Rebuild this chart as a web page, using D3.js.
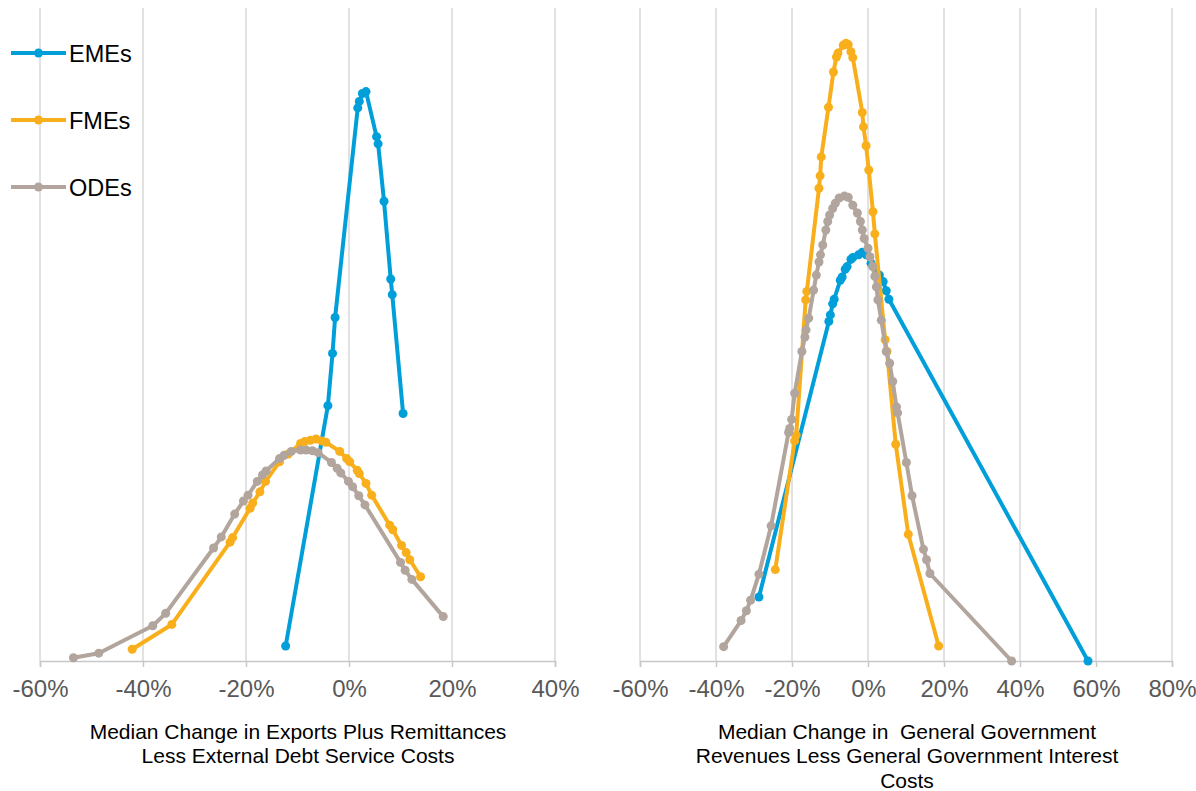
<!DOCTYPE html>
<html>
<head>
<meta charset="utf-8">
<script src="https://cdn.jsdelivr.net/npm/d3@7"></script>
<style>
	body { margin: 0; background: #ffffff; }
	svg { display: block; font-family: Arial, "Liberation Sans", sans-serif; }
</style>
</head>
<body>
<script>
// Series names and colours (legend order)
var seriesNames = ["EMEs", "FMEs", "ODEs"];
var seriesColors = ["#009fda", "#f9af1b", "#b1a59d"];

// Left panel: median change in exports plus remittances less external debt service costs (%), density
var exportsEMEs = [[-12.3, 2.3], [-4.1, 39.1], [-3.2, 47.1], [-2.7, 52.6], [1.7, 84.7], [2.0, 85.7],
	[2.6, 86.9], [3.3, 87.2], [5.35, 80.3], [5.65, 79.2], [6.8, 70.4], [8.1, 58.5], [8.4, 56.1], [10.5, 37.9]];
var exportsFMEs = [[-42.1, 1.8], [-34.4, 5.6], [-23.1, 18.2], [-22.6, 18.9], [-19.2, 23.4], [-18.7, 24.2],
	[-17.3, 25.9], [-16.2, 27.5], [-13.5, 30.5], [-11.8, 31.7], [-9.4, 33.3], [-8.6, 33.6], [-7.5, 33.8],
	[-6.4, 34.0], [-5.3, 33.7], [-4.5, 33.5], [-1.8, 32.1], [-0.45, 31.0], [0.15, 30.5], [1.6, 29.2],
	[2.0, 28.7], [3.3, 27.2], [4.4, 25.4], [7.9, 20.8], [8.5, 20.1], [10.2, 17.7], [11.1, 16.6],
	[11.8, 15.5], [13.9, 12.9]];
var exportsODEs = [[-53.5, 0.5], [-48.6, 1.2], [-38.1, 5.4], [-35.6, 7.3], [-26.3, 17.3], [-24.8, 19.0],
	[-22.2, 22.5], [-20.5, 24.5], [-19.6, 25.4], [-17.8, 27.5], [-16.8, 28.5], [-16.1, 29.1], [-13.5, 31.0],
	[-12.6, 31.5], [-11.2, 32.1], [-9.4, 32.3], [-8.3, 32.3], [-7.1, 32.2], [-6.0, 31.9], [-3.4, 30.4],
	[-2.3, 29.5], [-1.6, 28.8], [-0.1, 27.5], [0.7, 26.7], [1.9, 25.3], [3.1, 23.9], [10.0, 15.1],
	[10.9, 13.9], [12.2, 12.5], [18.3, 6.8]];

// Right panel: median change in general government revenues less interest costs (%), density
var revenuesEMEs = [[-28.7, 9.8], [-10.3, 52.0], [-9.9, 53.0], [-9.3, 54.7], [-8.9, 55.4], [-7.3, 58.3],
	[-6.8, 58.8], [-6.0, 60.0], [-5.5, 60.4], [-4.5, 61.5], [-4.0, 61.8], [-2.5, 62.2], [-1.5, 62.6],
	[-0.5, 62.2], [0.8, 60.9], [3.0, 59.1], [4.0, 58.1], [4.8, 56.7], [5.5, 55.4], [57.9, 0.0]];
var revenuesFMEs = [[-24.4, 14.0], [-19.3, 33.7], [-18.9, 34.6], [-16.4, 55.3], [-16.1, 56.6], [-12.9, 72.4],
	[-12.6, 74.3], [-12.3, 77.2], [-10.4, 84.8], [-9.1, 90.2], [-8.3, 92.5], [-7.9, 93.1], [-6.5, 94.3],
	[-5.8, 94.6], [-5.2, 94.4], [-4.5, 93.3], [-4.0, 92.4], [-1.5, 84.0], [-1.2, 81.8], [-0.5, 78.9],
	[0.2, 75.2], [1.3, 68.8], [1.8, 65.4], [4.5, 49.2], [5.0, 47.4], [7.3, 33.2], [10.6, 19.4], [18.6, 2.3]];
var revenuesODEs = [[-38.0, 2.2], [-33.4, 6.2], [-32.0, 7.7], [-30.9, 9.3], [-28.7, 13.3], [-25.5, 20.7],
	[-20.9, 35.0], [-20.6, 35.6], [-20.1, 37.0], [-19.3, 41.0], [-17.4, 47.4], [-16.6, 49.6], [-16.3, 50.7],
	[-15.6, 52.5], [-14.3, 56.8], [-13.6, 59.1], [-12.9, 61.1], [-12.5, 62.2], [-11.9, 63.7], [-11.1, 66.0],
	[-10.6, 67.3], [-10.1, 68.3], [-9.3, 69.3], [-8.6, 70.1], [-7.6, 70.9], [-6.2, 71.2], [-5.2, 71.0],
	[-4.0, 69.8], [-2.8, 68.6], [-2.0, 67.3], [-1.5, 66.0], [-1.0, 64.7], [0.0, 63.2], [0.5, 61.9],
	[1.2, 60.4], [1.8, 58.9], [2.2, 57.3], [2.6, 55.3], [3.5, 52.2], [4.8, 47.4], [5.7, 45.6], [6.5, 42.8],
	[7.5, 38.9], [7.8, 38.0], [10.1, 30.4], [11.6, 25.3], [14.6, 17.1], [15.4, 15.5], [16.3, 13.4], [37.8, 0.0]];

// Tick values for the two x axes
var exportsTicks = [-60, -40, -20, 0, 20, 40];
var revenuesTicks = [-60, -40, -20, 0, 20, 40, 60, 80];

// Axis titles (one entry per line)
var exportsTitle = ["Median Change in Exports Plus Remittances", "Less External Debt Service Costs"];
var revenuesTitle = ["Median Change in  General Government", "Revenues Less General Government Interest", "Costs"];

var width = 1196,
	height = 791;

var svg = d3.select("body").append("svg")
	.attr("width", width)
	.attr("height", height);

// Shared vertical (density) scale
var yScale = d3.scaleLinear()
	.domain([0, 100])
	.range([661, 8]);

drawPanel(exportsTicks, [40, 555], [exportsEMEs, exportsFMEs, exportsODEs], exportsTitle, 298);
drawPanel(revenuesTicks, [640, 1172], [revenuesEMEs, revenuesFMEs, revenuesODEs], revenuesTitle, 907);
drawLegend();

function drawPanel(ticks, xRange, allSeries, title, titleX) {
	var xScale = d3.scaleLinear()
		.domain([ticks[0], ticks[ticks.length - 1]])
		.range(xRange);

	var g = svg.append("g");

	// vertical gridlines
	g.selectAll("line.grid")
		.data(ticks)
		.enter()
		.append("line")
		.attr("class", "grid")
		.attr("x1", function(d) { return xScale(d); })
		.attr("x2", function(d) { return xScale(d); })
		.attr("y1", yScale(100))
		.attr("y2", yScale(0))
		.style("stroke", "#d9d9d9")
		.style("stroke-width", 1.5);

	// bottom axis
	var axis = g.append("g")
		.attr("transform", "translate(0," + yScale(0) + ")")
		.call(d3.axisBottom(xScale)
			.tickValues(ticks)
			.tickSize(6)
			.tickPadding(13)
			.tickFormat(function(d) { return d + "%"; }));
	axis.select(".domain").style("stroke", "#c8c8c8").style("stroke-width", 1.5);
	axis.selectAll(".tick line").style("stroke", "#c8c8c8").style("stroke-width", 1.5);
	axis.selectAll(".tick text")
		.style("font-family", "Arial, 'Liberation Sans', sans-serif")
		.style("font-size", "24px")
		.style("fill", "#595959");

	var line = d3.line()
		.x(function(d) { return xScale(d[0]); })
		.y(function(d) { return yScale(d[1]); });

	allSeries.forEach(function(series, i) {
		g.append("path")
			.datum(series)
			.attr("d", line)
			.style("fill", "none")
			.style("stroke", seriesColors[i])
			.style("stroke-width", 4)
			.style("stroke-linejoin", "round");
		g.selectAll("circle.s" + i)
			.data(series)
			.enter()
			.append("circle")
			.attr("class", "s" + i)
			.attr("cx", function(d) { return xScale(d[0]); })
			.attr("cy", function(d) { return yScale(d[1]); })
			.attr("r", 4.5)
			.style("fill", seriesColors[i]);
	});

	// axis title
	g.selectAll("text.title")
		.data(title)
		.enter()
		.append("text")
		.attr("class", "title")
		.attr("x", titleX)
		.attr("y", function(d, i) { return 738.5 + i * 24.5; })
		.attr("text-anchor", "middle")
		.style("font-size", "21px")
		.style("white-space", "pre")
		.style("fill", "#000000")
		.text(function(d) { return d; });
} // drawPanel()

function drawLegend() {
	var legend = svg.append("g")
		.selectAll("g")
		.data(seriesNames)
		.enter()
		.append("g")
		.attr("transform", function(d, i) { return "translate(0," + (53 + i * 67) + ")"; });

	legend.append("line")
		.attr("x1", 11)
		.attr("x2", 66)
		.style("stroke", function(d, i) { return seriesColors[i]; })
		.style("stroke-width", 4);
	legend.append("circle")
		.attr("cx", 38.5)
		.attr("r", 4.5)
		.style("fill", function(d, i) { return seriesColors[i]; });
	legend.append("text")
		.attr("x", 69)
		.attr("y", 8.5)
		.style("font-size", "23.5px")
		.style("fill", "#000000")
		.text(function(d) { return d; });
} // drawLegend()
</script>
</body>
</html>
